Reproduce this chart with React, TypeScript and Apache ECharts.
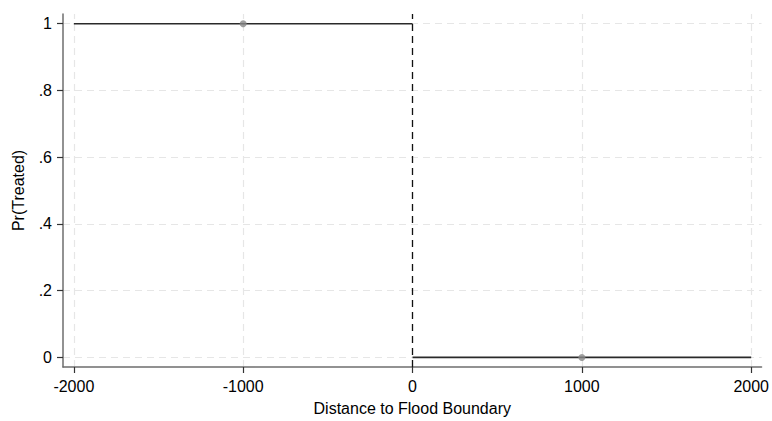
import React, { useEffect, useRef } from "react";
import * as echarts from "echarts";

const xTicks = [-2000, -1000, 0, 1000, 2000];
const yTicks = [0, 0.2, 0.4, 0.6, 0.8, 1];
const leftFitX = [-2000, 0];
const leftFitY = [1, 1];
const rightFitX = [0, 2000];
const rightFitY = [0, 0];
const binX = [-1000, 1000];
const binY = [1, 0];
const cutoff = 0;

const xName = "Distance to Flood Boundary";
const yName = "Pr(Treated)";

const fmtX = (v: number) => String(Math.round(v));
const fmtY = (v: number) => {
  if (v === 0) return "0";
  if (v === 1) return "1";
  return String(Math.round(v * 10) / 10).replace(/^0\./, ".");
};

export default function App() {
  const ref = useRef<HTMLDivElement>(null);
  useEffect(() => {
    if (!ref.current) return;
    const chart = echarts.init(ref.current, undefined, { renderer: "svg" });
    const font = "'Liberation Sans', Arial, sans-serif";
    const gridStyle = { color: "#e6e6e6", width: 1.2, type: [7, 5] as any };
    chart.setOption({
      animation: false,
      backgroundColor: "#ffffff",
      textStyle: { fontFamily: font },
      grid: { left: 63, right: 9, top: 14, bottom: 50, containLabel: false },
      xAxis: {
        type: "value",
        min: -2064,
        max: 2061,
        name: xName,
        nameLocation: "middle",
        nameGap: 33,
        nameTextStyle: { fontSize: 16, color: "#000", fontFamily: font },
        axisLine: { show: true, onZero: false, lineStyle: { color: "#6e6e6e", width: 1.5 } },
        axisTick: { show: true, inside: false, length: 6, customValues: xTicks, lineStyle: { color: "#333", width: 1.2 } },
        axisLabel: { customValues: xTicks, fontSize: 16, color: "#000", margin: 11, formatter: fmtX, fontFamily: font },
        splitLine: { show: false },
      },
      yAxis: {
        type: "value",
        min: -0.0287,
        max: 1.029,
        name: yName,
        nameLocation: "middle",
        nameGap: 37,
        nameRotate: 90,
        nameTextStyle: { fontSize: 16, color: "#000", fontFamily: font },
        axisLine: { show: true, onZero: false, lineStyle: { color: "#6e6e6e", width: 1.5 } },
        axisTick: { show: true, inside: false, length: 6, customValues: yTicks, lineStyle: { color: "#333", width: 1.2 } },
        axisLabel: { customValues: yTicks, fontSize: 16, color: "#000", margin: 11, formatter: fmtY, fontFamily: font },
        splitLine: { show: false },
      },
      series: [
        {
          type: "line",
          data: [],
          silent: true,
          z: 0,
          markLine: {
            silent: true,
            z: 0,
            symbol: "none",
            label: { show: false },
            lineStyle: gridStyle,
            data: [
              ...xTicks.map((v) => ({ xAxis: v })),
              ...yTicks.map((v) => ({ yAxis: v })),
            ],
          },
        },
        {
          type: "line",
          data: leftFitX.map((x, i) => [x, leftFitY[i]]),
          symbol: "none",
          lineStyle: { color: "#2a2a2a", width: 1.6 },
          z: 3,
        },
        {
          type: "line",
          data: rightFitX.map((x, i) => [x, rightFitY[i]]),
          symbol: "none",
          lineStyle: { color: "#2a2a2a", width: 1.6 },
          z: 3,
        },
        {
          type: "scatter",
          data: binX.map((x, i) => [x, binY[i]]),
          symbol: "circle",
          symbolSize: 7,
          itemStyle: { color: "#888888" },
          z: 4,
        },
        {
          type: "line",
          data: [],
          z: 5,
          markLine: {
            silent: true,
            z: 6,
            symbol: "none",
            label: { show: false },
            lineStyle: { color: "#111", width: 1.3, type: [7, 5] as any },
            data: [{ xAxis: cutoff }],
          },
        },
      ],
    });
    return () => chart.dispose();
  }, []);
  return (
    <div
      ref={ref}
      style={{ position: "fixed", left: 0, top: 0, width: 772, height: 421 }}
    />
  );
}
